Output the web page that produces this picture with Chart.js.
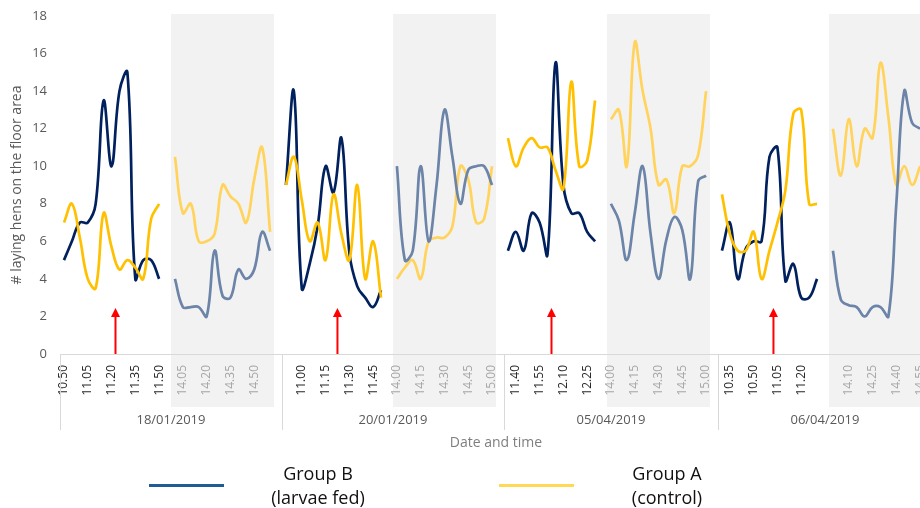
<!DOCTYPE html>
<html lang="en">
  <head>
    <meta charset="UTF-8" />
    <meta name="viewport" content="width=device-width, initial-scale=1.0" />
    <title>Laying hens on the floor area</title>
    <script src="https://cdn.jsdelivr.net/npm/chart.js"></script>
    <style>
      body {
        margin: 0;
        overflow: hidden;
        background: #ffffff;
        font-family: 'Open Sans', sans-serif;
      }
      .wrap {
        position: relative;
        width: 920px;
        height: 508px;
        overflow: hidden;
      }
      #myChart {
        position: absolute;
        left: 0;
        top: 0;
      }
      .legendLine {
        position: absolute;
        top: 484px;
        width: 75px;
        height: 3px;
      }
      .legendText {
        position: absolute;
        top: 461px;
        width: 140px;
        text-align: center;
        font-size: 18px;
        line-height: 24px;
        color: #111111;
      }
    </style>
  </head>
  <body>
    <div class="wrap">
      <canvas id="myChart" width="940" height="508"></canvas>

      <!-- legend -->
      <div class="legendLine" style="left: 149px; background: #1f5c94"></div>
      <div class="legendText" style="left: 248px">Group B<br />(larvae fed)</div>
      <div class="legendLine" style="left: 499px; background: #ffd955"></div>
      <div class="legendText" style="left: 597px">Group A<br />(control)</div>
    </div>

    <script>
      // observation days
      const dayNames = ['18/01/2019', '20/01/2019', '05/04/2019', '06/04/2019']

      // times of each session (5 min steps)
      const timesJan18Am = ['10.50', '10.55', '11.00', '11.05', '11.10', '11.15', '11.20', '11.25', '11.30', '11.35', '11.40', '11.45', '11.50']
      const timesJan20Am = ['10.50', '10.55', '11.00', '11.05', '11.10', '11.15', '11.20', '11.25', '11.30', '11.35', '11.40', '11.45', '11.50']
      const timesApr05Am = ['11.35', '11.40', '11.45', '11.50', '11.55', '12.00', '12.05', '12.10', '12.15', '12.20', '12.25', '12.30']
      const timesApr06Am = ['10.30', '10.35', '10.40', '10.45', '10.50', '10.55', '11.00', '11.05', '11.10', '11.15', '11.20', '11.25', '11.30']
      const timesPm = ['14.00', '14.05', '14.10', '14.15', '14.20', '14.25', '14.30', '14.35', '14.40', '14.45', '14.50', '14.55', '15.00']

      // Group B (larvae fed)
      const groupBJan18Am = [5, 6, 7, 7, 8, 13.5, 10, 14, 15, 4, 5, 5, 4]
      const groupBJan18Pm = [4, 2.5, 2.5, 2.5, 2, 5.5, 3.1, 3, 4.5, 4, 4.5, 6.5, 5.5]
      const groupBJan20Am = [9, 14, 3.5, 4.8, 6.8, 10, 8.6, 11.5, 5.4, 3.6, 3, 2.5, 3.4]
      const groupBJan20Pm = [10, 5, 5.5, 10, 6, 9, 13, 10.5, 8, 9.8, 10, 10, 9]
      const groupBApr05Am = [5.5, 6.5, 5.5, 7.5, 7, 5.3, 15.5, 9, 7.5, 7.5, 6.5, 6]
      const groupBApr05Pm = [8, 7.1, 5, 7.5, 10, 6.4, 4, 6.1, 7.3, 6.6, 4, 9.2, 9.5]
      const groupBApr06Am = [5.5, 7, 4, 5.6, 6, 6, 10.5, 11, 3.9, 4.8, 3, 3, 4]
      const groupBApr06Pm = [5.5, 2.9, 2.6, 2.5, 2, 2.5, 2.5, 2, 8, 14, 12.3, 12, null]

      // Group A (control)
      const groupAJan18Am = [7, 8, 6.2, 4, 3.5, 7.5, 5.7, 4.5, 5, 4.6, 4, 7.2, 8]
      const groupAJan18Pm = [10.5, 7.5, 8, 6, 6, 6.4, 9, 8.4, 8, 7, 9.3, 11, 6.5]
      const groupAJan20Am = [9, 10.5, 8.2, 6, 7, 5, 8.5, 6.4, 5, 9, 4, 6, 3]
      const groupAJan20Pm = [4, 4.6, 5, 4, 6, 6.2, 6.2, 6.8, 10, 9.3, 7, 7.2, 10]
      const groupAApr05Am = [11.5, 10, 11, 11.5, 11, 11, 9.8, 8.8, 14.5, 10, 10.3, 13.5]
      const groupAApr05Pm = [12.5, 13, 10, 16.6, 14, 12, 9, 9.3, 7.5, 10, 10, 10.6, 14]
      const groupAApr06Am = [8.5, 6.4, 5.5, 5.5, 6.5, 4, 5.5, 7, 8.7, 12.8, 13, 8, 8]
      const groupAApr06Pm = [12, 9.5, 12.5, 10, 12, 11.5, 15.5, 12.6, 9, 10, 9, 10, null]

      // feeding moments (red arrows): day index, time, fraction of a 5 min step after it
      const arrowDays = [0, 1, 2, 3]
      const arrowTimes = ['11.20', '11.20', '12.00', '11.00']
      const arrowShift = [0.5, 0.5, 0.5, 0.5]

      const sessionList = [
        { day: 0, pm: false, times: timesJan18Am, b: groupBJan18Am, a: groupAJan18Am },
        { day: 0, pm: true, times: timesPm, b: groupBJan18Pm, a: groupAJan18Pm },
        { day: 1, pm: false, times: timesJan20Am, b: groupBJan20Am, a: groupAJan20Am },
        { day: 1, pm: true, times: timesPm, b: groupBJan20Pm, a: groupAJan20Pm },
        { day: 2, pm: false, times: timesApr05Am, b: groupBApr05Am, a: groupAApr05Am },
        { day: 2, pm: true, times: timesPm, b: groupBApr05Pm, a: groupAApr05Pm },
        { day: 3, pm: false, times: timesApr06Am, b: groupBApr06Am, a: groupAApr06Am },
        { day: 3, pm: true, times: timesPm, b: groupBApr06Pm, a: groupAApr06Pm }
      ]

      // one category per 5 min step, with one empty step between sessions
      const categories = []
      const slotPm = []
      const slotDay = []
      const bMorning = []
      const aMorning = []
      const bAfternoon = []
      const aAfternoon = []
      const pmRanges = []

      sessionList.forEach(function (ses, k) {
        const start = categories.length
        for (let i = 0; i < ses.times.length; i++) {
          categories.push(ses.times[i])
          slotPm.push(ses.pm)
          slotDay.push(ses.day)
          bMorning.push(ses.pm ? null : ses.b[i])
          aMorning.push(ses.pm ? null : ses.a[i])
          bAfternoon.push(ses.pm ? ses.b[i] : null)
          aAfternoon.push(ses.pm ? ses.a[i] : null)
        }
        if (ses.pm) pmRanges.push([start, categories.length - 1])
        if (k < sessionList.length - 1) {
          categories.push('')
          slotPm.push(false)
          slotDay.push(ses.day)
          bMorning.push(null)
          aMorning.push(null)
          bAfternoon.push(null)
          aAfternoon.push(null)
        }
      })

      const fontFamily = "'Open Sans', sans-serif"
      Chart.defaults.font.family = fontFamily

      // grey afternoon bands, day separators, date labels, axis title, arrows
      const decor = {
        id: 'decor',
        beforeDraw(chart) {
          const { ctx, chartArea } = chart
          const x = chart.scales.x
          ctx.save()
          ctx.fillStyle = '#f2f2f2'
          pmRanges.forEach(function (r) {
            const x0 = x.getPixelForValue(r[0] - 0.5)
            const x1 = x.getPixelForValue(r[1] + 0.5)
            ctx.fillRect(x0, chartArea.top - 2, x1 - x0, chartArea.bottom - chartArea.top + 55)
          })
          ctx.restore()
        },
        afterDraw(chart) {
          const { ctx, chartArea } = chart
          const x = chart.scales.x
          const y = chart.scales.y
          ctx.save()
          ctx.textAlign = 'center'
          ctx.textBaseline = 'middle'
          dayNames.forEach(function (name, d) {
            const left = x.getPixelForValue(slotDay.indexOf(d) - 0.5)
            const right = x.getPixelForValue(slotDay.lastIndexOf(d) + 0.5)
            const lx = Math.round(left) + 0.5
            ctx.strokeStyle = '#d9d9d9'
            ctx.lineWidth = 1
            ctx.beginPath()
            ctx.moveTo(lx, chartArea.bottom)
            ctx.lineTo(lx, chartArea.bottom + 76)
            ctx.stroke()
            ctx.fillStyle = '#595959'
            ctx.font = '13px ' + fontFamily
            ctx.fillText(name, (left + right) / 2, chartArea.bottom + 66)
          })

          ctx.fillStyle = '#7f7f7f'
          ctx.font = '14px ' + fontFamily
          ctx.fillText('Date and time', (chartArea.left + chartArea.right) / 2, chartArea.bottom + 89)

          // red arrows
          ctx.strokeStyle = '#ff0000'
          ctx.fillStyle = '#ff0000'
          ctx.lineWidth = 2
          arrowDays.forEach(function (d, k) {
            let idx = -1
            for (let i = 0; i < categories.length; i++) {
              if (slotDay[i] === d && !slotPm[i] && categories[i] === arrowTimes[k]) idx = i
            }
            const ax = x.getPixelForValue(idx + arrowShift[k])
            const tip = y.getPixelForValue(2.45)
            ctx.beginPath()
            ctx.moveTo(ax, y.getPixelForValue(0))
            ctx.lineTo(ax, tip + 7)
            ctx.stroke()
            ctx.beginPath()
            ctx.moveTo(ax, tip)
            ctx.lineTo(ax - 4.5, tip + 9)
            ctx.lineTo(ax + 4.5, tip + 9)
            ctx.closePath()
            ctx.fill()
          })
          ctx.restore()
        }
      }

      function lineSet(data, color) {
        return {
          data: data,
          borderColor: color,
          borderWidth: 2.7,
          pointRadius: 0,
          tension: 0.4,
          spanGaps: false,
          fill: false
        }
      }

      const config = {
        type: 'line',
        data: {
          labels: categories,
          datasets: [
            lineSet(bAfternoon, '#6b84a8'),
            lineSet(aAfternoon, '#ffd35c'),
            lineSet(aMorning, '#ffc000'),
            lineSet(bMorning, '#00215e')
          ]
        },
        options: {
          responsive: false,
          animation: false,
          devicePixelRatio: 1,
          layout: { padding: { top: 16, right: 8, left: 0, bottom: 0 } },
          plugins: {
            legend: { display: false },
            tooltip: { enabled: false }
          },
          scales: {
            x: {
              type: 'category',
              offset: true,
              grid: { display: false, drawTicks: false },
              border: { display: true, color: '#d9d9d9', width: 1 },
              ticks: {
                autoSkip: false,
                maxRotation: 90,
                minRotation: 90,
                padding: 11,
                font: { size: 12 },
                color: function (ctx) {
                  return slotPm[ctx.index] ? '#a6a6a6' : '#262626'
                },
                callback: function (value, index) {
                  return index % 3 === 0 ? categories[index] : ''
                }
              },
              afterFit: function (scale) {
                scale.height = 154
                scale.paddingLeft = 0
                scale.paddingRight = 0
              }
            },
            y: {
              min: 0,
              max: 18,
              grid: { display: false, drawTicks: false },
              border: { display: false },
              ticks: {
                stepSize: 2,
                padding: 13,
                color: '#595959',
                font: { size: 13 }
              },
              title: {
                display: true,
                text: '# laying hens on the floor area',
                color: '#595959',
                font: { size: 14 },
                padding: { top: 9, bottom: 0 }
              },
              afterFit: function (scale) {
                scale.width = 60
                scale.paddingTop = 0
                scale.paddingBottom = 0
              }
            }
          }
        },
        plugins: [decor]
      }

      let myChart = new Chart(document.getElementById('myChart'), config)
    </script>
  </body>
</html>
